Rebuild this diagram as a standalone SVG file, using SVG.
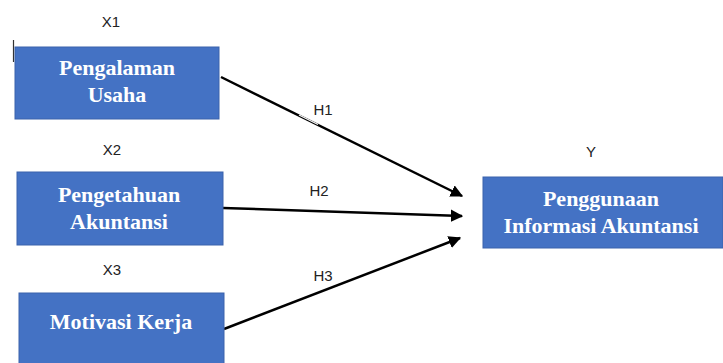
<svg xmlns="http://www.w3.org/2000/svg" width="723" height="363" viewBox="0 0 723 363">
<style>
.box{fill:#4472C4;stroke:#3A62AC;stroke-width:1}
.bt{font-family:"Liberation Serif","Times New Roman",serif;font-weight:bold;font-size:22px;fill:#fff;text-anchor:middle}
.lb{font-family:"Liberation Sans",Arial,sans-serif;font-size:15px;fill:#222;text-anchor:middle}
.cn{stroke:#000;stroke-width:2.5;fill:none;marker-end:url(#ah)}
</style>
<defs>
<marker id="ah" viewBox="0 0 10 10" refX="9" refY="5" markerWidth="5" markerHeight="5" orient="auto" markerUnits="strokeWidth">
<path d="M0,0 L10,5 L0,10 Z" fill="#000"/>
</marker>
</defs>
<rect width="723" height="363" fill="#fff"/>
<line x1="13.5" y1="40" x2="13.5" y2="62" stroke="#333" stroke-width="1.2"/>
<g id="connectors">
<line class="cn" x1="221" y1="77" x2="462" y2="196"/>
<line class="cn" x1="223" y1="208" x2="462" y2="216"/>
<line class="cn" x1="224" y1="329" x2="460" y2="238"/>
<line x1="299" y1="115" x2="318" y2="124.5" stroke="#fff" stroke-width="1.2"/>
<line x1="330" y1="291" x2="350" y2="283" stroke="#fff" stroke-width="1.2"/>
</g>
<g id="x1">
<text class="lb" x="111" y="27">X1</text>
<rect class="box" x="15" y="47" width="204" height="72"/>
<text class="bt" x="117" y="75">Pengalaman</text>
<text class="bt" x="117" y="102">Usaha</text>
</g>
<g id="x2">
<text class="lb" x="112" y="155">X2</text>
<rect class="box" x="17" y="172" width="206" height="73"/>
<text class="bt" x="119" y="202">Pengetahuan</text>
<text class="bt" x="119" y="229">Akuntansi</text>
</g>
<g id="x3">
<text class="lb" x="112" y="275">X3</text>
<rect class="box" x="19" y="293" width="205" height="75"/>
<text class="bt" x="121" y="329">Motivasi Kerja</text>
</g>
<g id="y">
<text class="lb" x="591" y="157">Y</text>
<rect class="box" x="483" y="177" width="240" height="71"/>
<text class="bt" x="601" y="206">Penggunaan</text>
<text class="bt" x="601" y="233">Informasi Akuntansi</text>
</g>
<g id="labels">
<text class="lb" x="323" y="115">H1</text>
<text class="lb" x="319" y="196">H2</text>
<text class="lb" x="323" y="281">H3</text>
</g>
</svg>
